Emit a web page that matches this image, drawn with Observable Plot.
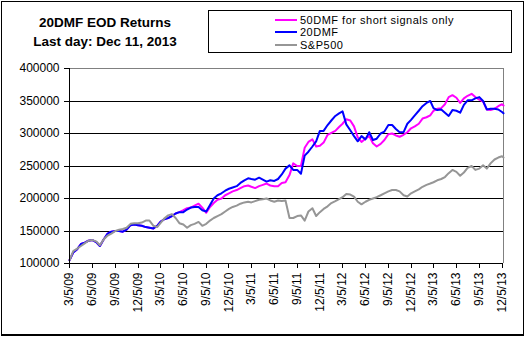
<!DOCTYPE html>
<html>
<head>
<meta charset="utf-8">
<script src="https://cdn.jsdelivr.net/npm/d3@7"></script>
<script src="https://cdn.jsdelivr.net/npm/@observablehq/plot@0.6"></script>
<style>
  body { margin: 0; background: #fff; }
  #wrap { position: relative; width: 526px; height: 338px; font-family: Arial, "Liberation Sans", sans-serif; color: #000; }
  #wrap svg { position: absolute; left: 0; top: 0; }
  #frame { position: absolute; left: 1px; top: 1px; width: 521px; height: 332px; border: 1px solid #000; border-bottom-width: 2px; pointer-events: none; }
  #title { position: absolute; left: 0; top: 14px; width: 210px; text-align: center; font-weight: bold; font-size: 13.5px; line-height: 18.5px; }
  #legend { position: absolute; left: 208px; top: 10px; width: 302px; height: 41px; border: 1px solid #000; font-size: 11px; letter-spacing: 0.5px; }
  .row { position: absolute; left: 66px; height: 12px; line-height: 12px; white-space: nowrap; }
  .row span.sw { display: inline-block; width: 22px; height: 2px; vertical-align: middle; margin-right: 3px; position: relative; top: -1px; }
</style>
</head>
<body>
<div id="wrap">
  <div id="title">20DMF EOD Returns<br>Last day: Dec 11, 2013</div>
  <div id="legend"></div>
  <div id="frame"></div>
</div>
<script>
// ---- data ----
const dates = [
  "2009-03-05","2009-03-20","2009-04-05","2009-04-20","2009-05-05","2009-05-20","2009-06-05","2009-06-20","2009-07-05","2009-07-20",
  "2009-08-05","2009-08-20","2009-09-05","2009-09-20","2009-10-05","2009-10-20","2009-11-05","2009-11-20","2009-12-05","2009-12-20",
  "2010-01-05","2010-01-20","2010-02-05","2010-02-20","2010-03-05","2010-03-20","2010-04-05","2010-04-20","2010-05-05","2010-05-20",
  "2010-06-05","2010-06-20","2010-07-05","2010-07-20","2010-08-05","2010-08-20","2010-09-05","2010-09-20","2010-10-05","2010-10-20",
  "2010-11-05","2010-11-20","2010-12-05","2010-12-20",
  "2011-01-05","2011-01-20","2011-02-05","2011-02-20","2011-03-05","2011-03-20","2011-04-05","2011-04-20","2011-05-05","2011-05-20",
  "2011-06-05","2011-06-20","2011-07-05","2011-07-20","2011-08-05","2011-08-20","2011-09-05","2011-09-20","2011-10-05","2011-10-20",
  "2011-11-05","2011-11-20","2011-12-05","2011-12-20",
  "2012-01-05","2012-01-20","2012-02-05","2012-02-20","2012-03-05","2012-03-20","2012-04-05","2012-04-20","2012-05-05","2012-05-20",
  "2012-06-05","2012-06-20","2012-07-05","2012-07-20","2012-08-05","2012-08-20","2012-09-05","2012-09-20","2012-10-05","2012-10-20",
  "2012-11-05","2012-11-20","2012-12-05","2012-12-20",
  "2013-01-05","2013-01-20","2013-02-05","2013-02-20","2013-03-05","2013-03-20","2013-04-05","2013-04-20","2013-05-05","2013-05-20",
  "2013-06-05","2013-06-20","2013-07-05","2013-07-20","2013-08-05","2013-08-20","2013-09-05","2013-09-20","2013-10-05","2013-10-20",
  "2013-11-05","2013-11-20","2013-12-05","2013-12-11"
];

const dmf50 = [
  105000,117000,122000,130000,132000,135000,136000,133000,127000,137000,146000,149000,150000,150000,149000,152000,159000,160000,159000,158000,
  156000,155000,154000,158000,164000,168000,170000,173000,177000,179000,182000,185000,186000,189000,192000,186000,178000,187000,193000,198000,
  200000,205000,208000,211000,
  213000,216000,219000,220000,218000,216000,219000,221000,223000,220000,219000,219000,224000,225000,236000,254000,250000,250000,278000,287000,
  291000,280000,281000,286000,
  298000,301000,304000,310000,315000,322000,320000,311000,294000,287000,292000,296000,285000,280000,284000,290000,299000,300000,297000,295000,
  298000,302000,308000,311000,
  315000,323000,325000,328000,335000,338000,339000,345000,356000,359000,355000,347000,354000,358000,361000,356000,352000,349000,337000,336000,
  338000,342000,345000,343000
];

const dmf20 = [
  105000,117000,122000,130000,132000,135000,136000,133000,127000,137000,146000,149000,150000,150000,149000,152000,159000,160000,159000,158000,
  156000,155000,154000,158000,164000,168000,170000,173000,177000,179000,179000,183000,186000,187000,187000,182000,180000,190000,200000,205000,
  208000,212000,215000,217000,
  219000,224000,228000,231000,230000,229000,232000,229000,226000,228000,227000,230000,237000,246000,251000,244000,244000,238000,266000,272000,
  280000,288000,304000,304000,
  313000,320000,327000,331000,334000,314000,305000,296000,288000,296000,291000,302000,290000,292000,300000,303000,313000,313000,307000,302000,
  302000,315000,321000,328000,
  335000,342000,347000,350000,339000,336000,337000,332000,327000,336000,335000,332000,344000,351000,351000,354000,356000,350000,337000,338000,
  338000,337000,333000,331000
];

const sp500 = [
  105000,119000,123000,127000,131000,135000,136000,134000,128000,137000,143000,146000,150000,152000,153000,155000,161000,162000,162000,163000,
  166000,166000,158000,156000,162000,169000,174000,176000,170000,162000,160000,155000,159000,161000,164000,158000,161000,166000,170000,173000,
  176000,180000,184000,187000,
  189000,192000,194000,195000,194000,196000,198000,199000,200000,197000,195000,197000,196000,197000,170000,170000,173000,174000,166000,180000,
  185000,173000,179000,184000,
  188000,193000,196000,199000,202000,207000,206000,203000,195000,191000,195000,198000,200000,202000,205000,208000,211000,213000,213000,211000,
  205000,203000,208000,211000,
  214000,218000,221000,223000,225000,228000,230000,233000,239000,244000,241000,235000,240000,247000,250000,244000,246000,251000,246000,254000,
  260000,263000,265000,263000
];

const seriesNames = ["50DMF for short signals only", "20DMF", "S&P500"];
const seriesColors = ["#FF00FF", "#0000FF", "#969696"];

const xTickLabels = ["3/5/09","6/5/09","9/5/09","12/5/09","3/5/10","6/5/10","9/5/10","12/5/10","3/5/11","6/5/11",
  "9/5/11","12/5/11","3/5/12","6/5/12","9/5/12","12/5/12","3/5/13","6/5/13","9/5/13","12/5/13"];
const yTicks = [100000,150000,200000,250000,300000,350000,400000];
const xDomain = ["2009-03-05","2013-12-11"];

// ---- build ----
const parseMDY = s => { const [m,d,y] = s.split("/").map(Number); return new Date(Date.UTC(2000 + y, m - 1, d)); };
const xTicks = xTickLabels.map(parseMDY);
const fmt = d => `${d.getUTCMonth()+1}/${d.getUTCDate()}/${String(d.getUTCFullYear()).slice(2)}`;

const allValues = [dmf50, dmf20, sp500];
const rows = [];
allValues.forEach((vals, si) => vals.forEach((v, i) => rows.push({date: new Date(dates[i]), value: v, series: seriesNames[si]})));

const xMin = new Date(xDomain[0]), xMax = new Date(xDomain[1]);
const crisp = {shapeRendering: "crispEdges"};

const chart = Plot.plot({
  width: 526, height: 338,
  marginLeft: 69, marginRight: 23, marginTop: 68, marginBottom: 75,
  style: {fontFamily: "Arial, 'Liberation Sans', sans-serif", fontSize: "12px", background: "transparent", color: "#000"},
  x: {type: "utc", domain: [xMin, xMax], label: null},
  y: {domain: [100000, 400000], label: null},
  color: {domain: seriesNames, range: seriesColors},
  marks: [
    Plot.ruleY(yTicks.slice(1, -1), {stroke: "#000", strokeWidth: 1, ...crisp}),
    Plot.ruleY([400000], {stroke: "#808080", ...crisp}),
    Plot.ruleX([xMax], {stroke: "#808080", ...crisp}),
    ...seriesNames.map(name => Plot.line(rows.filter(r => r.series === name), {x: "date", y: "value", stroke: "series", strokeWidth: 2, curve: "linear"})),
    Plot.ruleY([100000], {stroke: "#000", ...crisp}),
    Plot.ruleX([xMin], {stroke: "#000", ...crisp}),
    Plot.axisY(yTicks, {tickSize: 5, tickPadding: 5, tickFormat: d => String(d), fontSize: 12, label: null, ...crisp}),
    Plot.axisX(xTicks, {tickSize: 5, tickPadding: 4, tickRotate: -90, tickFormat: fmt, fontSize: 12, label: null, ...crisp})
  ]
});
document.getElementById("wrap").insertBefore(chart, document.getElementById("title"));

// legend
const legend = document.getElementById("legend");
seriesNames.forEach((name, i) => {
  const row = document.createElement("div");
  row.className = "row";
  row.style.top = (3 + i * 12.3) + "px";
  const sw = document.createElement("span");
  sw.className = "sw";
  sw.style.background = seriesColors[i];
  row.appendChild(sw);
  row.appendChild(document.createTextNode(name));
  legend.appendChild(row);
});
</script>
</body>
</html>
